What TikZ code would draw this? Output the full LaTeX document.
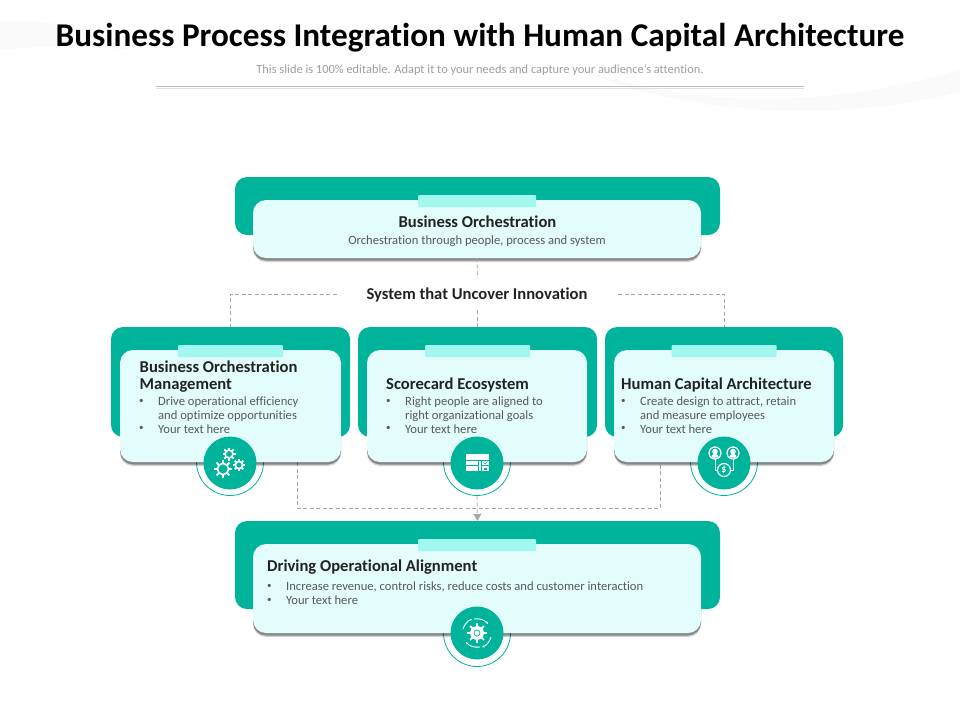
\documentclass[tikz,border=0pt]{standalone}
\usepackage{fontspec}
\setmainfont{Carlito}[Ligatures={NoCommon}]
\usetikzlibrary{shadows,arrows.meta}
\definecolor{tealmain}{HTML}{00B39B}
\definecolor{cardfill}{HTML}{E2FDFB}
\definecolor{tabfill}{HTML}{A0F8EE}
\definecolor{dashgray}{HTML}{A6A6A6}
\definecolor{headtxt}{HTML}{222222}
\definecolor{bodytxt}{HTML}{595959}
\tikzset{
  backbox/.style={fill=tealmain, rounded corners=12pt, inner sep=0pt},
  cardbox/.style={fill=cardfill, rounded corners=13pt, inner sep=0pt,
    drop shadow={shadow xshift=0pt, shadow yshift=-4pt, fill=black, opacity=.18},
    drop shadow={shadow xshift=0pt, shadow yshift=-2.5pt, fill=black, opacity=.35}},
  tabbox/.style={fill=tabfill, rounded corners=1pt, inner sep=0pt},
  iconcircle/.style={circle, fill=tealmain, minimum size=53pt, inner sep=0pt},
  iconring/.style={circle, draw=tealmain, line width=.8pt, minimum size=67pt, inner sep=0pt},
  headlabel/.style={text=headtxt, inner sep=0pt, font=\fontsize{16.6}{16.5}\selectfont\bfseries},
  bodylabel/.style={text=bodytxt, inner sep=0pt, font=\fontsize{12.6}{14}\selectfont},
  dotlabel/.style={text=bodytxt, inner sep=0pt, font=\fontsize{9}{9}\selectfont},
  dashline/.style={draw=dashgray, line width=.7pt, dash pattern=on 4pt off 2.5pt},
  gear/.pic={
    \foreach \a in {0,45,...,315} \draw[white, line width=1.8pt] (\a:.75) -- (\a:1.3);
    \draw[white, line width=1.7pt] (0,0) circle (.8);
  }
}
\begin{document}
\begin{tikzpicture}[x=1pt,y=-1pt]
  \useasboundingbox (0,0) rectangle (960,720);
  % faint backdrop
  \fill[black!2] (0,22) .. controls (50,18) and (90,28) .. (130,50) .. controls (80,44) and (40,46) .. (0,50) -- cycle;
  \fill[black!2] (560,60) .. controls (680,110) and (820,110) .. (960,70) -- (960,92) .. controls (840,122) and (680,120) .. (560,60) -- cycle;

  % title
  \node[inner sep=0pt, font=\fontsize{33.2}{35}\selectfont\bfseries] (title) at (480,37.5) {Business Process Integration with Human Capital Architecture};
  \node[inner sep=0pt, text=black!38, font=\fontsize{12.4}{14}\selectfont] (subtitle) at (480,70.5) {This slide is 100\% editable. Adapt it to your needs and capture your audience's attention.};
  \draw[black!25, line width=.6pt] (156,86.5) -- (804,86.5);
  \draw[black!12, line width=.8pt] (156,88) -- (804,88);

  % rings go under the cards
  \node[iconring] (leftring) at (230,462) {};
  \node[iconring] (midring) at (477,462) {};
  \node[iconring] (rightring) at (724,462) {};
  \node[iconring] (lowring) at (477,633) {};

  % teal panels
  \node[backbox, minimum width=485pt, minimum height=58pt] (topback) at (477.5,206) {};
  \node[backbox, minimum width=239pt, minimum height=110pt] (leftback) at (230.5,382) {};
  \node[backbox, minimum width=239pt, minimum height=110pt] (midback) at (477.5,382) {};
  \node[backbox, minimum width=238pt, minimum height=110pt] (rightback) at (724,382) {};
  \node[backbox, minimum width=485pt, minimum height=88pt] (lowback) at (477.5,565) {};

  % connectors
  \node[minimum width=281pt, minimum height=32pt, inner sep=0pt] (innov) at (477.5,294) {};
  \coordinate (leftdrop) at (297,462);
  \coordinate (rightdrop) at (660,462);
  \coordinate (merge) at (477.5,508);
  \draw[dashline] (innov.west) -| (leftback.north);
  \draw[dashline] (innov.east) -| (rightback.north);
  \draw[dashline] (innov.south) -- (midback.north);
  \draw[dashline] (leftdrop) |- (merge) -| (rightdrop);
  \draw[dashline, -{Triangle[length=7pt,width=8pt,fill=dashgray]}] (midring.south) -- (lowback.north);
  \node[headlabel] (innovtxt) at (477,294.5) {System that Uncover Innovation};

  % cards
  \node[cardbox, minimum width=448pt, minimum height=58pt] (topcard) at (477,229) {};
  \node[cardbox, minimum width=221pt, minimum height=112pt] (leftcard) at (230.5,406) {};
  \node[cardbox, minimum width=220pt, minimum height=112pt] (midcard) at (477,406) {};
  \node[cardbox, minimum width=220pt, minimum height=112pt] (rightcard) at (724,406) {};
  \node[cardbox, minimum width=448pt, minimum height=89pt] (lowcard) at (477,588.5) {};
  \draw[dashline] (topcard.south) -- (innov.north);

  % tabs
  \node[tabbox, minimum width=118pt, minimum height=12pt] (toptab) at (477,201) {};
  \node[tabbox, minimum width=105pt, minimum height=12pt] (lefttab) at (230.5,351) {};
  \node[tabbox, minimum width=105pt, minimum height=12pt] (midtab) at (477.5,351) {};
  \node[tabbox, minimum width=105pt, minimum height=12pt] (righttab) at (724,351) {};
  \node[tabbox, minimum width=118pt, minimum height=12pt] (lowtab) at (477,545) {};

  % top card text
  \node[headlabel] (tophead) at (477.5,221.5) {Business Orchestration};
  \node[bodylabel] (topbody) at (477,241) {Orchestration through people, process and system};

  % left card text
  \node[headlabel, anchor=west, align=left] (lefthead) at (139.5,376.5) {Business Orchestration\\Management};
  \node[dotlabel, anchor=west] (leftdot1) at (139,401) {•};
  \node[bodylabel, anchor=west, align=left] (lefttxt1) at (158,409) {Drive operational efficiency\\and optimize opportunities};
  \node[dotlabel, anchor=west] (leftdot2) at (139,428.5) {•};
  \node[bodylabel, anchor=west] (lefttxt2) at (158,429) {Your text here};

  % middle card text
  \node[headlabel, anchor=west] (midhead) at (386,384.5) {Scorecard Ecosystem};
  \node[dotlabel, anchor=west] (middot1) at (386,401) {•};
  \node[bodylabel, anchor=west, align=left] (midtxt1) at (405,409) {Right people are aligned to\\right organizational goals};
  \node[dotlabel, anchor=west] (middot2) at (386,428.5) {•};
  \node[bodylabel, anchor=west] (midtxt2) at (405,429) {Your text here};

  % right card text
  \node[headlabel, anchor=west] (righthead) at (621,384.5) {Human Capital Architecture};
  \node[dotlabel, anchor=west] (rightdot1) at (621,401) {•};
  \node[bodylabel, anchor=west, align=left] (righttxt1) at (640,409) {Create design to attract, retain\\and measure employees};
  \node[dotlabel, anchor=west] (rightdot2) at (621,428.5) {•};
  \node[bodylabel, anchor=west] (righttxt2) at (640,429) {Your text here};

  % bottom card text
  \node[headlabel, anchor=west] (lowhead) at (267,567) {Driving Operational Alignment};
  \node[dotlabel, anchor=west] (lowdot1) at (267,586) {•};
  \node[bodylabel, anchor=west] (lowtxt1) at (286,586.5) {Increase revenue, control risks, reduce costs and customer interaction};
  \node[dotlabel, anchor=west] (lowdot2) at (267,600) {•};
  \node[bodylabel, anchor=west] (lowtxt2) at (286,600.5) {Your text here};

  % icon discs
  \node[iconcircle] (lefticon) at (230,463) {};
  \node[iconcircle] (midicon) at (477,463) {};
  \node[iconcircle] (righticon) at (724,463) {};
  \node[iconcircle] (lowicon) at (477,633) {};

  % gears
  \pic[scale=5] at (229,454) {gear};
  \pic[scale=4.5] at (239,465) {gear};
  \pic[scale=7] at (223,469) {gear};

  % table
  \fill[white] (466,454) rectangle (489,459.5);
  \fill[white] (466,460.5) rectangle (477.5,465);
  \fill[white] (466,466) rectangle (477.5,471);
  \fill[white] (479,460.5) rectangle (480.5,471);
  \fill[white] (481.5,460.5) rectangle (489,465);
  \fill[white] (481.5,466) rectangle (489,471);
  \draw[tealmain, line width=.6pt] (483.5,462.5) -- (485,464) -- (487.5,461.5);
  \fill[tealmain] (484,467.5) rectangle (486.5,469.5);

  % people and coin
  \foreach \px in {715,733} {
    \draw[white, line width=1.2pt] (\px,453) circle (6);
    \fill[white] (\px,451.5) circle (2.8);
    \fill[white] (\px-3.8,457.5) arc (180:360:3.8) -- cycle;
  }
  \draw[white, line width=1pt] (715,459) -- (715,470) -- (717,470);
  \draw[white, line width=1pt] (733,459) -- (733,470) -- (731,470);
  \draw[white, line width=1.2pt] (724,470) circle (6.5);
  \node[text=white, inner sep=0pt, font=\fontsize{10}{10}\selectfont\bfseries] (coin) at (724,470) {\$};

  % gear with arrows
  \pic[scale=7.5] at (477,633) {gear};
  \fill[white] (477,633) circle (6.4);
  \draw[tealmain, line width=.7pt] (477,633) circle (3);
  \draw[white, line width=.9pt, -{Stealth[length=3pt]}] (463,629) arc (196:250:15);
  \draw[white, line width=.9pt, -{Stealth[length=3pt]}] (474,619) arc (260:320:15);
  \draw[white, line width=.9pt, -{Stealth[length=3pt]}] (491,637) arc (15:70:15);
  \draw[white, line width=.9pt, -{Stealth[length=3pt]}] (480,647) arc (80:140:15);
\end{tikzpicture}
\end{document}
